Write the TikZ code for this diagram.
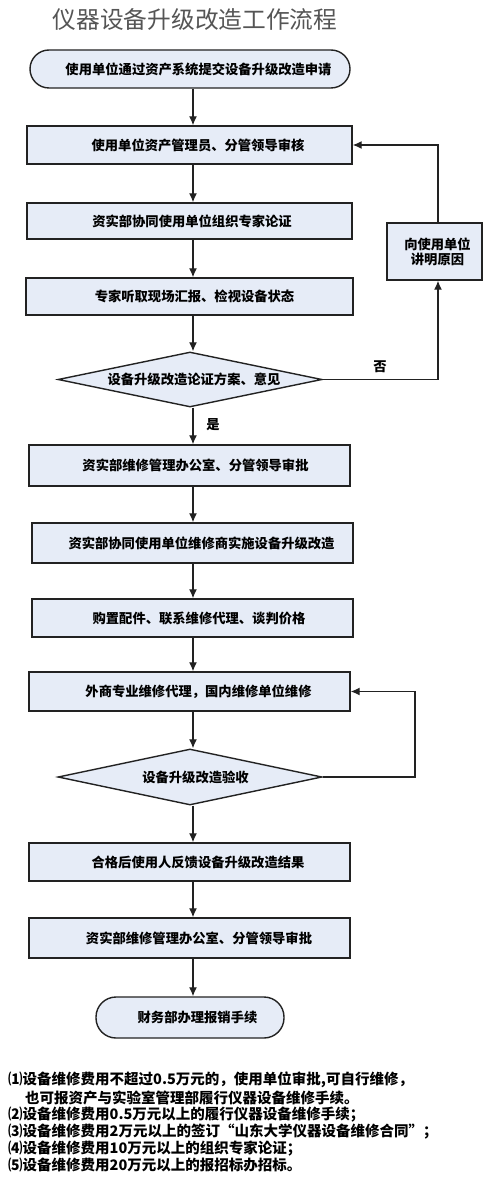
\documentclass[tikz,border=0pt]{standalone}
\usepackage{fontspec}
\setmainfont{Noto Sans CJK SC}
\usetikzlibrary{shapes.geometric,arrows.meta}
\definecolor{boxfill}{HTML}{E6ECF7}
\definecolor{edgecol}{HTML}{222222}
\definecolor{titlecol}{HTML}{555555}
\tikzset{
  base/.style={draw=edgecol,line width=1.4pt,fill=boxfill,inner sep=0pt,
    font=\fontsize{13.3}{15}\selectfont\bfseries},
  box/.style={base,rectangle},
  term/.style={base,rectangle,rounded corners=19pt},
  decide/.style={base,diamond,aspect=4.8},
  conn/.style={line width=1.3pt,draw=edgecol,-{Latex[length=9pt,width=8pt]}},
  plain/.style={line width=1.3pt,draw=edgecol},
  lbl/.style={font=\fontsize{13.3}{15}\selectfont\bfseries,inner sep=0pt},
  note/.style={font=\fontsize{14.5}{16}\selectfont\bfseries,inner sep=0pt,anchor=west},
}
\begin{document}
\begin{tikzpicture}[x=1pt,y=-1pt]
\useasboundingbox (0,0) rectangle (483,1182);

\node[font=\fontsize{23.7}{26}\selectfont,text=titlecol,inner sep=0pt] (title) at (195,20) {仪器设备升级改造工作流程};

\coordinate (ax) at (193,0);
\coordinate (rx) at (438,0);
\coordinate (lx) at (415,0);

\node[term,minimum width=320pt,minimum height=38pt] (start) at (190,69) {\hspace*{17pt}使用单位通过资产系统提交设备升级改造申请};
\node[box,minimum width=325pt,minimum height=38pt] (b1) at (189.5,145) {\hspace*{17pt}使用单位资产管理员、分管领导审核};
\node[box,minimum width=325pt,minimum height=36pt] (b2) at (189.5,221) {\hspace*{5pt}资实部协同使用单位组织专家论证};
\node[box,minimum width=327pt,minimum height=37pt] (b3) at (189.5,296.5) {\hspace*{10pt}专家听取现场汇报、检视设备状态};
\node[box,minimum width=95pt,minimum height=57pt,align=center] (r1) at (434.5,251.5) {\hspace*{6pt}向使用单位\\\hspace*{6pt}讲明原因};
\node[decide,minimum width=264pt,minimum height=55pt] (d1) at (190,379.5) {\hspace*{8pt}设备升级改造论证方案、意见};
\node[box,minimum width=321pt,minimum height=41pt] (b4) at (189.5,465.5) {\hspace*{12pt}资实部维修管理办公室、分管领导审批};
\node[box,minimum width=321pt,minimum height=40pt] (b5) at (192.5,543) {\hspace*{18pt}资实部协同使用单位维修商实施设备升级改造};
\node[box,minimum width=321pt,minimum height=38pt] (b6) at (192.5,618) {\hspace*{13pt}购置配件、联系维修代理、谈判价格};
\node[box,minimum width=321pt,minimum height=39pt] (b7) at (189.5,691.5) {\hspace*{18pt}外商专业维修代理，国内维修单位维修};
\node[decide,minimum width=264pt,minimum height=56pt] (d2) at (190,777) {\hspace*{11pt}设备升级改造验收};
\node[box,minimum width=321pt,minimum height=38pt] (b8) at (189.5,862) {\hspace*{17pt}合格后使用人反馈设备升级改造结果};
\node[box,minimum width=321pt,minimum height=40pt] (b9) at (189.5,938) {\hspace*{19pt}资实部维修管理办公室、分管领导审批};
\node[term,rounded corners=20pt,minimum width=188pt,minimum height=41pt] (end) at (190,1017.5) {\hspace*{15pt}财务部办理报销手续};

\draw[conn] (start.south -| ax) -- (b1.north -| ax);
\draw[conn] (b1.south -| ax) -- (b2.north -| ax);
\draw[conn] (b2.south -| ax) -- (b3.north -| ax);
\draw[conn] (b3.south -| ax) -- (d1.north -| ax);
\draw[conn] (d1.south -| ax) -- (b4.north -| ax);
\draw[conn] (b4.south -| ax) -- (b5.north -| ax);
\draw[conn] (b5.south -| ax) -- (b6.north -| ax);
\draw[conn] (b6.south -| ax) -- (b7.north -| ax);
\draw[conn] (b7.south -| ax) -- (d2.north -| ax);
\draw[conn] (d2.south -| ax) -- (b8.north -| ax);
\draw[conn] (b8.south -| ax) -- (b9.north -| ax);
\draw[conn] (b9.south -| ax) -- (end.north -| ax);

\draw[conn] (d1.east) -- (d1.east -| rx) -- (r1.south -| rx);
\draw[conn] (r1.north -| rx) -- (rx |- b1.east) -- (b1.east);
\draw[conn] (d2.east) -- (d2.east -| lx) -- (lx |- b7.east) -- (b7.east);

\node[lbl] (no) at (380,367) {否};
\node[lbl] (yes) at (213,425) {是};

\node[note] (n1) at (8,1080) {⑴设备维修费用不超过0.5万元的，使用单位审批,可自行维修，};
\node[note] (n2) at (25,1097.5) {也可报资产与实验室管理部履行仪器设备维修手续。};
\node[note] (n3) at (8,1114.5) {⑵设备维修费用0.5万元以上的履行仪器设备维修手续；};
\node[note] (n4) at (8,1131.5) {⑶设备维修费用2万元以上的签订“山东大学仪器设备维修合同”；};
\node[note] (n5) at (8,1148.5) {⑷设备维修费用10万元以上的组织专家论证；};
\node[note] (n6) at (8,1165) {⑸设备维修费用20万元以上的报招标办招标。};
\end{tikzpicture}
\end{document}
